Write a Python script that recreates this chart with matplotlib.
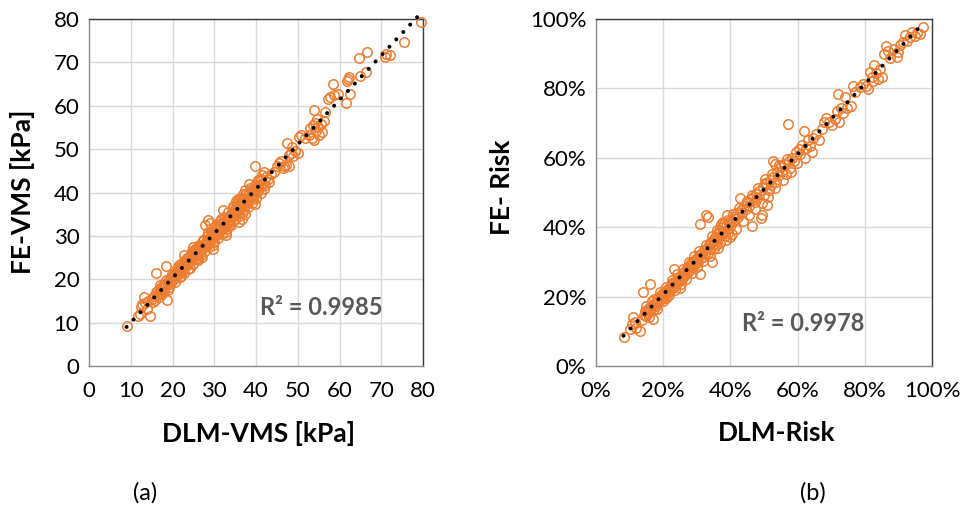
import numpy as np
import matplotlib
matplotlib.use("Agg")
import matplotlib.pyplot as plt
from matplotlib.ticker import FuncFormatter, MultipleLocator

plt.rcParams['font.family'] = ['Lato', 'DejaVu Sans']

# ---------------- Panel (a) data: DLM-VMS vs FE-VMS [kPa] ----------------
pairs_a = [
    (9.0, 9.2), (11.8, 11.6), (12.2, 12.0), (12.4, 13.6), (12.8, 14.2), (13.1, 15.8),
    (13.4, 14.6), (13.9, 13.2), (14.6, 11.6), (14.2, 15.0), (15.0, 15.5), (15.3, 14.8),
    (15.6, 16.2), (15.8, 15.2), (16.0, 21.5), (16.1, 17.0), (16.3, 16.4), (16.5, 17.6),
    (16.7, 16.0), (16.9, 17.2), (17.1, 18.0), (17.3, 16.8), (17.5, 17.9), (17.7, 18.6),
    (17.9, 17.4), (18.1, 19.0), (18.3, 18.2), (18.5, 23.0), (18.6, 15.2), (18.8, 19.4),
    (19.0, 17.6), (19.2, 19.8), (19.4, 18.9), (19.6, 20.3), (19.8, 19.5), (20.0, 20.8),
    (20.2, 20.0), (20.4, 21.2), (20.6, 20.4), (20.8, 21.6), (21.0, 20.9), (21.2, 22.0),
    (21.4, 21.1), (21.6, 22.4), (21.8, 21.6), (22.0, 22.8), (22.2, 22.0), (22.4, 23.4),
    (22.6, 22.5), (22.8, 25.6), (22.9, 23.6), (23.1, 22.8), (23.3, 24.2), (23.5, 23.3),
    (23.7, 24.6), (23.9, 23.9), (24.1, 25.0), (24.3, 22.6), (24.5, 24.6), (24.7, 25.6),
    (24.9, 24.8), (25.1, 26.0), (25.3, 25.3), (25.5, 26.4), (25.7, 25.6), (25.9, 26.8),
    (26.1, 26.0), (26.3, 27.2), (26.5, 26.4), (26.7, 27.6), (26.9, 26.7), (27.1, 25.2),
    (27.3, 27.4), (27.5, 28.2), (27.7, 27.6), (27.9, 32.4), (28.0, 28.6), (28.2, 27.9),
    (28.4, 33.6), (28.5, 29.2), (28.7, 28.4), (28.9, 33.0), (29.0, 29.6), (29.2, 30.4),
    (29.4, 29.2), (29.6, 26.9), (29.8, 30.6), (30.0, 29.8), (30.2, 31.2), (30.4, 30.4),
    (30.6, 31.6), (30.8, 30.5), (31.0, 32.2), (31.2, 31.0), (31.4, 32.6), (31.6, 31.4),
    (31.8, 33.0), (32.0, 31.8), (32.2, 36.0), (32.3, 32.8), (32.5, 32.0), (32.7, 33.6),
    (32.9, 30.8), (33.1, 34.0), (33.3, 33.2), (33.5, 34.4), (33.7, 33.5), (33.9, 35.0),
    (34.1, 34.0), (34.3, 35.2), (34.5, 33.4), (34.7, 35.8), (34.9, 34.8), (35.1, 36.6),
    (35.3, 35.4), (35.5, 37.0), (35.7, 35.8), (35.9, 33.2), (36.1, 38.4), (36.3, 36.4),
    (36.5, 37.6), (36.7, 36.8), (36.9, 38.2), (37.1, 37.0), (37.3, 40.6), (37.4, 35.0),
    (37.6, 38.6), (37.8, 37.8), (38.0, 39.4), (38.2, 38.2), (38.4, 40.0), (38.6, 38.9),
    (38.8, 40.6), (39.0, 39.0), (39.2, 38.4), (39.4, 40.4), (39.6, 39.8), (39.8, 46.0),
    (40.0, 41.2), (40.2, 40.2), (40.4, 41.8), (40.6, 40.8), (40.8, 42.6), (41.0, 41.4),
    (41.3, 43.2), (41.6, 42.0), (41.9, 44.8), (42.2, 41.8), (42.5, 43.6), (42.8, 43.0),
    (43.2, 42.4), (43.6, 44.2), (44.2, 44.8), (45.0, 46.2), (45.6, 46.8), (46.0, 47.2),
    (46.4, 45.6), (46.8, 46.0), (47.2, 46.4), (47.5, 51.4), (47.8, 48.6), (48.0, 46.2),
    (48.3, 49.2), (48.6, 50.4), (48.9, 48.4), (49.4, 49.6), (50.0, 49.2), (50.4, 52.8),
    (50.8, 53.2), (51.8, 52.6), (52.6, 53.2), (53.0, 54.8), (53.3, 52.6), (53.6, 55.6),
    (53.8, 52.2), (54.0, 59.0), (54.2, 56.0), (54.4, 54.2), (54.7, 57.0), (54.9, 55.2),
    (55.2, 53.2), (55.5, 55.8), (55.8, 54.0), (56.2, 56.4), (56.6, 58.6), (57.2, 61.6),
    (57.8, 62.0), (58.4, 65.0), (58.8, 62.4), (59.6, 62.8), (61.5, 60.6), (61.8, 65.6),
    (62.0, 66.2), (62.3, 66.6), (62.6, 62.6), (64.6, 71.0), (66.6, 72.4), (64.8, 66.8),
    (66.4, 67.8), (70.8, 71.2), (71.2, 72.0), (72.2, 71.6), (75.4, 74.6), (79.6, 79.3),
    # extra points filling the dense band
    (17.0, 18.6), (17.6, 16.6), (18.4, 19.8), (19.1, 18.2), (19.9, 21.2), (20.5, 19.4),
    (21.1, 22.6), (21.7, 20.6), (22.3, 23.8), (22.7, 21.4), (23.4, 25.0), (23.8, 22.4),
    (24.4, 25.9), (24.8, 23.6), (25.4, 27.0), (25.8, 24.6), (26.4, 27.9), (26.8, 25.6),
    (27.4, 28.9), (27.8, 26.4), (28.3, 30.0), (28.8, 27.4), (29.3, 31.2), (29.9, 28.6),
    (30.3, 32.2), (30.9, 29.4), (31.3, 33.4), (31.9, 30.4), (32.4, 34.4), (33.0, 31.6),
    (33.4, 35.4), (34.0, 32.6), (34.4, 36.4), (35.0, 33.8), (35.4, 37.6), (36.0, 34.6),
    (36.4, 38.8), (37.0, 35.6), (37.5, 39.6), (38.1, 36.6), (38.5, 41.0), (39.1, 37.6),
    (39.5, 41.6), (40.1, 38.8), (40.5, 42.8), (41.1, 39.8), (41.5, 44.0), (42.0, 40.8),
    (36.2, 37.2), (36.8, 39.6), (37.2, 36.2), (35.6, 38.4), (34.6, 36.8), (33.6, 32.4),
    (30.7, 32.8), (29.5, 30.0), (27.2, 29.0), (26.0, 25.0), (24.6, 26.6), (23.0, 24.4),
    (21.5, 23.2), (22.1, 20.8), (25.0, 27.4), (26.2, 24.4), (28.6, 31.0), (29.7, 27.8),
    (31.5, 34.0), (32.8, 30.2), (35.2, 38.0), (36.6, 34.0), (38.3, 42.0), (39.7, 37.4),
]
dlm_vms = [p[0] for p in pairs_a]
fe_vms = [p[1] for p in pairs_a]

# ---------------- Panel (b) data: DLM-Risk vs FE-Risk [%] ----------------
pairs_b = [
    (8.2, 8.3), (10.2, 10.6), (10.8, 12.2), (11.0, 14.0), (11.6, 12.8), (12.0, 11.0),
    (13.2, 10.2), (13.6, 13.4), (14.0, 21.2), (14.2, 14.8), (14.6, 15.8), (14.9, 14.4),
    (15.2, 16.2), (15.5, 15.2), (15.8, 16.8), (16.0, 23.6), (16.1, 15.8), (16.4, 17.4),
    (16.7, 18.8), (17.0, 13.6), (17.1, 17.2), (17.4, 16.4), (17.7, 18.2), (18.0, 17.4),
    (18.3, 19.2), (18.6, 18.4), (18.9, 19.6), (19.2, 20.4), (19.5, 19.4), (19.8, 21.0),
    (20.1, 20.2), (20.4, 21.4), (20.7, 19.6), (21.0, 21.8), (21.3, 21.0), (21.6, 22.6),
    (21.9, 21.8), (22.2, 23.0), (22.5, 24.8), (22.8, 22.6), (23.1, 28.0), (23.2, 23.8),
    (23.5, 23.0), (23.8, 24.6), (24.1, 23.8), (24.4, 25.4), (24.7, 24.4), (25.0, 22.4),
    (25.2, 26.0), (25.5, 25.2), (25.8, 26.8), (26.1, 26.0), (26.4, 27.4), (26.7, 26.4),
    (27.0, 28.2), (27.3, 27.2), (27.6, 28.8), (27.9, 27.8), (28.2, 29.6), (28.5, 28.4),
    (28.8, 30.0), (29.1, 29.2), (29.4, 30.6), (29.7, 29.6), (30.0, 31.2), (30.3, 30.0),
    (30.6, 32.0), (30.9, 26.4), (31.0, 41.0), (31.2, 31.0), (31.5, 32.6), (31.8, 31.4),
    (32.1, 33.4), (32.4, 32.2), (32.7, 43.6), (32.9, 34.0), (33.2, 43.0), (33.3, 32.6),
    (33.6, 34.8), (33.9, 33.8), (34.2, 35.6), (34.5, 30.0), (34.8, 36.4), (35.1, 35.2),
    (35.4, 37.2), (35.7, 36.0), (36.0, 38.0), (36.3, 34.0), (36.6, 38.8), (36.9, 37.4),
    (37.2, 40.8), (37.5, 38.2), (37.8, 41.6), (38.1, 39.0), (38.4, 37.6), (38.7, 40.4),
    (39.0, 43.6), (39.3, 39.4), (39.6, 41.2), (39.9, 40.0), (40.2, 42.0), (40.5, 38.0),
    (40.8, 41.4), (41.2, 43.0), (41.6, 42.4), (42.0, 44.2), (42.4, 43.0), (43.0, 48.4),
    (43.2, 45.0), (43.6, 44.0), (44.0, 46.0), (44.5, 45.2), (45.0, 47.4), (45.5, 46.2),
    (46.0, 48.0), (46.5, 40.4), (46.8, 48.6), (47.2, 47.2), (47.6, 49.6), (48.0, 48.4),
    (48.5, 50.4), (49.0, 42.6), (49.3, 43.6), (49.6, 51.6), (50.0, 49.2), (50.3, 54.0),
    (50.6, 52.4), (51.0, 46.4), (51.4, 50.6), (51.8, 53.6), (52.2, 52.2), (52.6, 59.0),
    (52.8, 54.4), (53.2, 58.2), (53.5, 53.0), (54.0, 56.0), (54.5, 55.0), (55.0, 57.4),
    (55.5, 56.2), (56.0, 58.2), (56.5, 55.4), (57.0, 69.8), (57.3, 59.0), (57.8, 57.2),
    (58.2, 60.0), (58.8, 59.0), (59.4, 61.6), (59.8, 58.6), (60.4, 62.6), (60.8, 61.0),
    (61.4, 63.6), (61.8, 67.6), (62.2, 60.0), (62.6, 62.8), (63.0, 65.0), (63.6, 63.4),
    (64.2, 61.8), (64.6, 65.6), (65.4, 66.8), (66.4, 65.2), (67.2, 68.4), (67.8, 70.2),
    (68.4, 71.6), (69.2, 70.4), (70.2, 69.4), (71.0, 71.2), (71.6, 73.4), (72.0, 78.4),
    (72.4, 70.2), (72.8, 74.4), (73.4, 72.8), (74.2, 77.6), (74.8, 74.4), (75.8, 74.8),
    (76.6, 80.8), (77.2, 79.0), (78.6, 80.4), (79.6, 81.4), (80.4, 80.6), (81.0, 79.8),
    (81.6, 84.8), (82.0, 83.2), (82.4, 82.0), (82.8, 86.6), (83.2, 84.4), (83.8, 82.6),
    (84.4, 85.6), (85.2, 83.4), (85.6, 90.0), (86.2, 92.2), (86.8, 90.8), (87.4, 88.8),
    (88.6, 91.4), (89.6, 89.0), (90.0, 90.6), (90.6, 92.6), (91.4, 93.4), (92.0, 95.4),
    (92.6, 93.8), (93.4, 94.8), (94.0, 96.2), (94.8, 95.2), (95.6, 96.0), (96.4, 95.6),
    (97.4, 97.8),
    # extra points filling the dense band
    (15.0, 17.2), (15.9, 14.2), (17.2, 19.2), (18.2, 16.4), (19.0, 21.4), (19.9, 18.6),
    (20.8, 22.8), (21.8, 20.4), (22.6, 24.0), (23.6, 21.8), (24.2, 26.6), (25.4, 23.6),
    (26.0, 28.0), (26.9, 25.2), (27.7, 30.0), (28.6, 26.8), (29.2, 31.6), (30.2, 28.6),
    (30.8, 33.2), (31.9, 30.2), (32.6, 35.0), (33.8, 31.8), (34.4, 37.4), (35.2, 33.6),
    (35.9, 39.2), (36.8, 35.4), (37.6, 40.0), (38.6, 36.4), (39.4, 42.2), (40.0, 37.2),
    (40.9, 43.8), (41.8, 39.6), (42.6, 45.6), (43.8, 41.8), (44.8, 47.6), (45.6, 43.4),
    (46.4, 49.4), (47.4, 45.2), (48.2, 51.4), (49.4, 47.0), (50.2, 52.6), (51.2, 48.6),
    (52.4, 55.2), (53.4, 51.2), (54.6, 57.8), (55.8, 53.6), (56.8, 59.6), (58.0, 55.8),
    (37.0, 39.0), (38.0, 41.0), (39.2, 38.4), (36.4, 37.0), (35.6, 34.8), (34.0, 35.4),
]
dlm_risk = [p[0] / 100 for p in pairs_b]
fe_risk = [p[1] / 100 for p in pairs_b]

r2_a = "R² = 0.9985"
r2_b = "R² = 0.9978"

ORANGE = "#ED7D31"
GRID = "#d9d9d9"

fig = plt.figure(figsize=(9.61, 5.11), dpi=100)
W, H = 961, 511

def add_axes_px(x0, x1, y0, y1):
    return fig.add_axes([x0 / W, 1 - y1 / H, (x1 - x0) / W, (y1 - y0) / H])

ax_a = add_axes_px(89, 423, 19, 366)
ax_b = add_axes_px(596, 932, 19, 366)

def style(ax, xs, ys, xmax, step):
    ax.set_xlim(0, xmax)
    ax.set_ylim(0, xmax)
    ax.xaxis.set_major_locator(MultipleLocator(step))
    ax.yaxis.set_major_locator(MultipleLocator(step))
    ax.grid(True, color=GRID, linewidth=1.0)
    ax.set_axisbelow(True)
    for s in ['top', 'right']:
        ax.spines[s].set_color('#3a3a3a')
        ax.spines[s].set_linewidth(1.0)
    for s in ['left', 'bottom']:
        ax.spines[s].set_color('#8c8c8c')
        ax.spines[s].set_linewidth(1.0)
    ax.tick_params(length=0, labelsize=16, colors='black', pad=7)
    ax.tick_params(axis='x', pad=11)
    ax.plot(xs, ys, linestyle='none', marker='o', markersize=6.8,
            markerfacecolor='none', markeredgecolor=ORANGE, markeredgewidth=1.1,
            zorder=3, clip_on=False)
    xs = np.asarray(xs); ys = np.asarray(ys)
    m, b = np.polyfit(xs, ys, 1)
    xl = np.array([xs.min(), xs.max() - 0.012 * xs.max()])
    ax.plot(xl, m * xl + b, color='black', linewidth=2.9,
            linestyle=(0, (0.01, 2.5)), dash_capstyle='round', zorder=4,
            clip_on=False)

style(ax_a, dlm_vms, fe_vms, 80, 10)
style(ax_b, dlm_risk, fe_risk, 1.0, 0.2)
pct = FuncFormatter(lambda v, p: f"{v*100:.0f}%")
ax_b.xaxis.set_major_formatter(pct)
ax_b.yaxis.set_major_formatter(pct)

# axis labels
fig.text(259 / W, 1 - 433 / H, "DLM-VMS [kPa]", ha='center', va='center',
         fontsize=19, fontweight='bold')
fig.text(23 / W, 1 - 192 / H, "FE-VMS [kPa]", ha='center', va='center',
         fontsize=19, fontweight='bold', rotation=90)
fig.text(777 / W, 1 - 433 / H, "DLM-Risk", ha='center', va='center',
         fontsize=19, fontweight='bold')
fig.text(502 / W, 1 - 187 / H, "FE- Risk", ha='center', va='center',
         fontsize=19, fontweight='bold', rotation=90)

# R^2 annotations
fig.text(321 / W, 1 - 307 / H, r2_a, ha='center', va='center',
         fontsize=17, fontweight='bold', color='#595959')
fig.text(803 / W, 1 - 323 / H, r2_b, ha='center', va='center',
         fontsize=17, fontweight='bold', color='#595959')

# panel tags
fig.text(145 / W, 1 - 493 / H, "(a)", ha='center', va='center', fontsize=17)
fig.text(813 / W, 1 - 493 / H, "(b)", ha='center', va='center', fontsize=17)

fig.savefig("out.png", dpi=100, facecolor='white')
